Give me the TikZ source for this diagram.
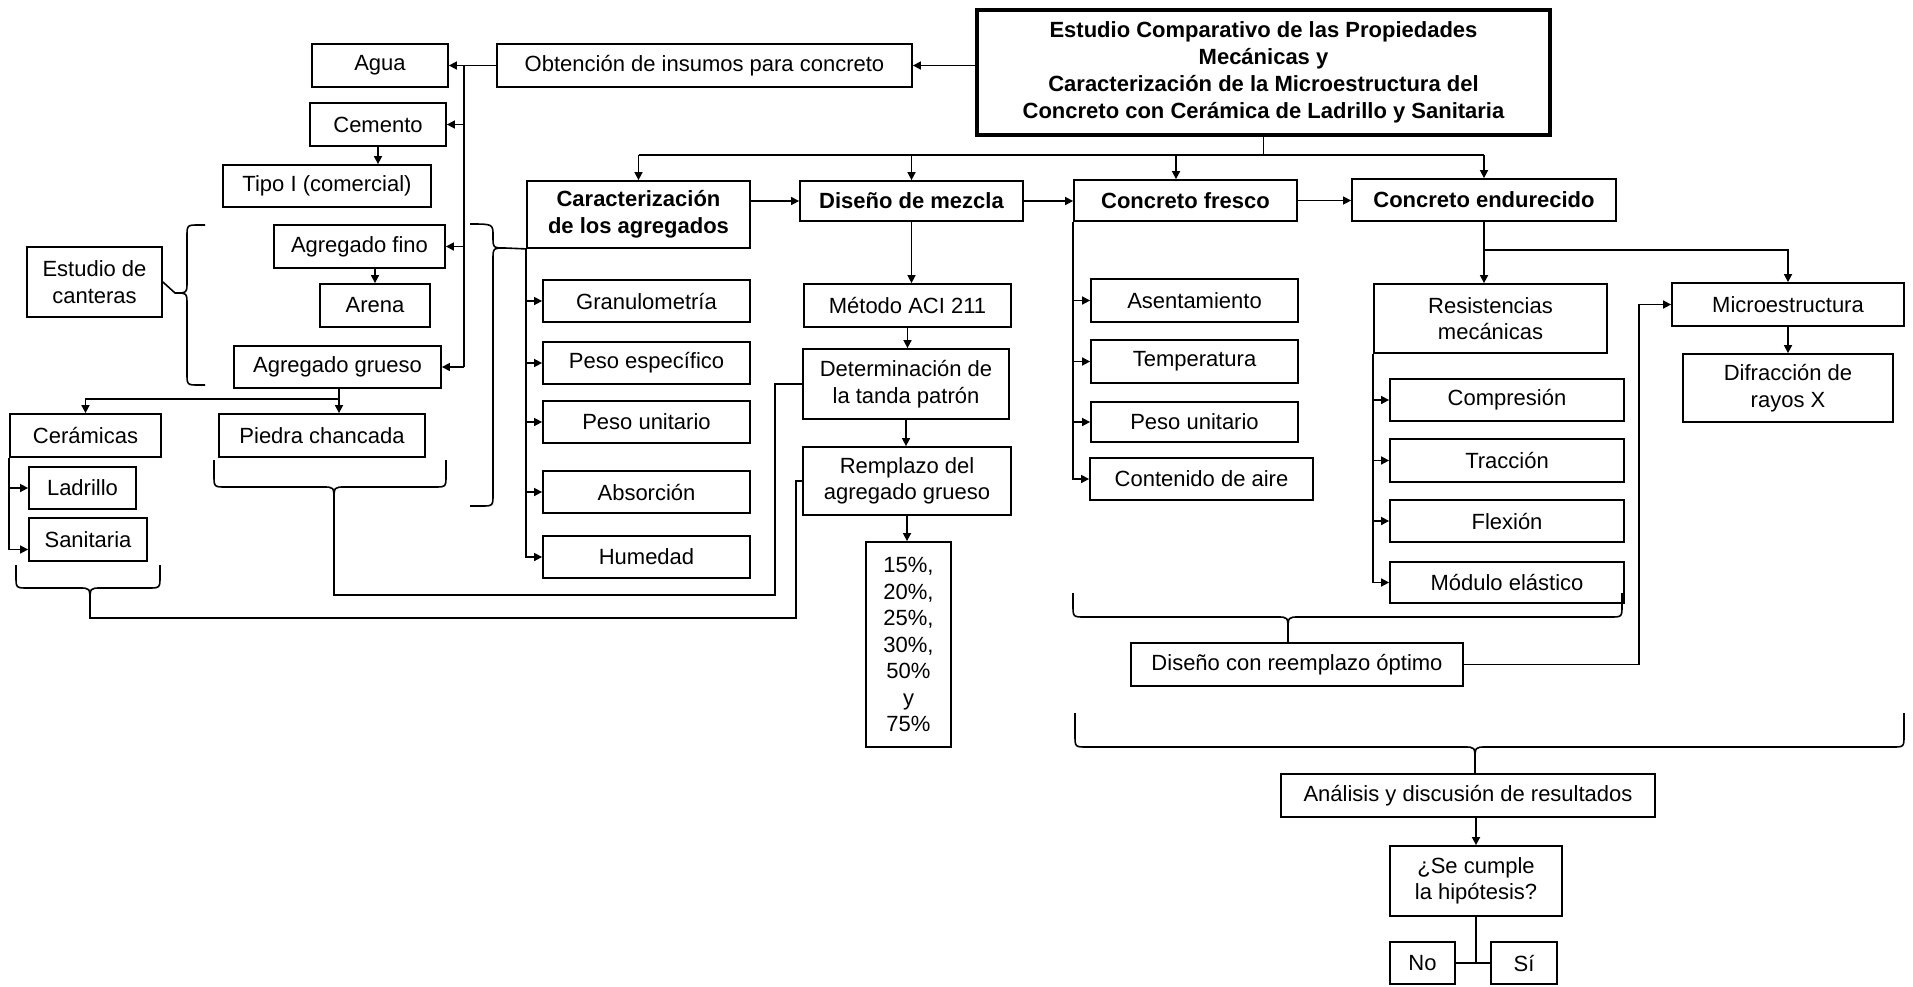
\documentclass[tikz,border=0pt]{standalone}
\usepackage{fontspec}
\setmainfont{Liberation Sans}
\usetikzlibrary{arrows.meta,calc}
\tikzset{
 bx/.style={draw, line width=1.8pt, inner sep=0pt, align=center, font=\fontsize{22}{26.5}\selectfont, text=black},
 bbx/.style={bx, font=\fontsize{22}{26.5}\selectfont\bfseries},
 ln/.style={line width=1.6pt},
 arr/.style={ln, -{Triangle[length=8pt,width=8pt]}},
}
\newcommand{\bxx}[7][]{\node[bx,#1, minimum width={(#5-#3)*1pt}, minimum height={(#6-#4)*1pt}] (#2) at ({(#3+#5)/2},{(#4+#6)/2}) {#7};}
\newcommand{\hbr}[6]{%
 \draw[ln] (#1,#3) -- (#1,{#4-12}) .. controls (#1,#4) .. ({#1+12},#4) -- ({#5-11},#4) .. controls (#5,#4) .. (#5,{#4+14});
 \draw[ln] (#2,#3) -- (#2,{#4-12}) .. controls (#2,#4) .. ({#2-12},#4) -- ({#5+11},#4) .. controls (#5,#4) .. (#5,{#4+14});
 \coordinate (#6) at (#5,{#4+14});}
\begin{document}
\begin{tikzpicture}[x=1pt,y=-1pt]
\useasboundingbox (0,0) rectangle (1913,986);
% title
\node[bx, line width=4.5pt, font=\fontsize{22}{27}\selectfont\bfseries, minimum width=573pt, minimum height=125pt] (title) at (1263.5,72.5) {Estudio Comparativo de las Propiedades\\Mecánicas y\\Caracterización de la Microestructura del\\Concreto con Cerámica de Ladrillo y Sanitaria};
% left group
\bxx{obt}{497}{44}{912}{87}{Obtención de insumos para concreto}
\bxx{agua}{312}{44}{448}{87}{Agua}
\bxx{cemento}{310}{103}{446}{146}{Cemento}
\bxx{tipo}{223}{165}{431}{207}{Tipo I (comercial)}
\bxx{afino}{274}{225}{445}{268}{Agregado fino}
\bxx{arena}{320}{284}{430}{327}{Arena}
\bxx{agrueso}{234}{346}{441}{388}{Agregado grueso}
\bxx{canteras}{27}{247}{162}{317}{Estudio de\\canteras}
\bxx{ceram}{10}{414}{161}{457}{Cerámicas}
\bxx{piedra}{219}{414}{425}{457}{Piedra chancada}
\bxx{ladrillo}{29}{467}{136}{509}{Ladrillo}
\bxx{sanit}{29}{518}{147}{561}{Sanitaria}
% caracterizacion
\bxx[bbx]{caract}{527}{181}{750}{248}{Caracterización\\de los agregados}
\bxx{granu}{543}{280}{750}{322}{Granulometría}
\bxx{pesoesp}{543}{342}{750}{384}{Peso específico}
\bxx{pesouni}{543}{401}{750}{443}{Peso unitario}
\bxx{absor}{543}{471}{750}{513}{Absorción}
\bxx{humedad}{543}{536}{750}{578}{Humedad}
% diseno
\bxx[bbx]{diseno}{800}{181}{1023}{221}{Diseño de mezcla}
\bxx{aci}{804}{284}{1011}{327}{Método ACI 211}
\bxx{determ}{803}{349}{1009}{419}{Determinación de\\la tanda patrón}
\bxx{remplazo}{803}{447}{1011}{515}{Remplazo del\\agregado grueso}
\bxx{pct}{866}{542}{951}{747}{15\%,\\20\%,\\25\%,\\30\%,\\50\%\\y\\75\%}
% fresco
\bxx[bbx]{fresco}{1074}{180}{1297}{221}{Concreto fresco}
\bxx{asent}{1091}{279}{1298}{322}{Asentamiento}
\bxx{temp}{1091}{340}{1298}{383}{Temperatura}
\bxx{pesouniB}{1091}{402}{1298}{442}{Peso unitario}
\bxx{aire}{1090}{458}{1313}{500}{Contenido de aire}
% endurecido
\bxx[bbx]{endur}{1352}{179}{1616}{221}{Concreto endurecido}
\bxx{resist}{1374}{284}{1607}{353}{Resistencias\\mecánicas}
\bxx{micro}{1672}{283}{1904}{326}{Microestructura}
\bxx{difr}{1683}{354}{1893}{422}{Difracción de\\rayos X}
\bxx{compr}{1390}{379}{1624}{421}{Compresión}
\bxx{tracc}{1390}{439}{1624}{482}{Tracción}
\bxx{flex}{1390}{500}{1624}{542}{Flexión}
\bxx{modulo}{1390}{562}{1624}{603}{Módulo elástico}
% bottom
\bxx{diseopt}{1131}{643}{1463}{686}{Diseño con reemplazo óptimo}
\bxx{analisis}{1281}{774}{1655}{817}{Análisis y discusión de resultados}
\bxx{hipot}{1390}{846}{1562}{916}{¿Se cumple\\la hipótesis?}
\bxx{no}{1390}{942}{1455}{984}{No}
\bxx{si}{1491}{942}{1557}{984}{Sí}
% ---- connectors: left
\draw[arr] (title.west |- obt.east) -- (obt.east);
\draw[arr] (obt.west) -- (agua.east);
\coordinate (vx) at (464,0);
\draw[ln] (vx |- agua.east) -- (vx |- agrueso.east);
\draw[arr] (vx |- cemento.east) -- (cemento.east);
\draw[arr] (vx |- afino.east) -- (afino.east);
\draw[arr] (vx |- agrueso.east) -- (agrueso.east);
\draw[arr] (cemento.south) -- (cemento.south |- tipo.north);
\draw[arr] (arena.north |- afino.south) -- (arena.north);
\coordinate (gs) at (339,399);
\draw[ln] (gs |- agrueso.south) -- (gs);
\draw[arr] (gs) -- (gs |- piedra.north);
\draw[arr] (gs) -| (ceram.north);
\draw[arr] (ceram.south west) |- (ladrillo.west);
\draw[arr] (ceram.south west) |- ([yshift=-10pt]sanit.west);
% canteras brace
\draw[ln] (205,225) -- (199,225) .. controls (187,225) .. (187,237) -- (187,281) .. controls (187,293) .. (175,293) -- (canteras.east);
\draw[ln] (205,385) -- (199,385) .. controls (187,385) .. (187,373) -- (187,305) .. controls (187,293) .. (175,293);
% agregados brace
\draw[ln] (470,224) .. controls (493,224) .. (493,236) .. controls (493,248) .. (505,248) -- (caract.south west);
\draw[ln] (470,506) -- (481,506) .. controls (493,506) .. (493,494) -- (493,260) .. controls (493,248) .. (505,248);
% lower braces
\hbr{214}{446}{460}{487}{334}{pt}
\draw[ln] (pt) |- (775,595) |- (determ.west);
\hbr{16}{160}{565}{588}{90}{ct}
\draw[ln] (ct) |- (796,618) |- (remplazo.west);
% caracterizacion list
\draw[arr] (caract.south west) |- (granu.west);
\draw[arr] (caract.south west) |- (pesoesp.west);
\draw[arr] (caract.south west) |- (pesouni.west);
\draw[arr] (caract.south west) |- (absor.west);
\draw[arr] (caract.south west) |- (humedad.west);
% bus
\coordinate (bus) at (0,155);
\draw[ln] (title.south) -- (title.south |- bus);
\draw[ln] (caract.north |- bus) -- (endur.north |- bus);
\draw[arr] (caract.north |- bus) -- (caract.north);
\draw[arr] (diseno.north |- bus) -- (diseno.north);
\coordinate (fx) at (1176,155);
\draw[arr] (fx) -- (fx |- fresco.north);
\draw[arr] (endur.north |- bus) -- (endur.north);
\draw[arr] (caract.east |- diseno.west) -- (diseno.west);
\draw[arr] (diseno.east) -- (diseno.east -| fresco.west);
\draw[arr, line width=1.3pt] (fresco.east) -- (fresco.east -| endur.west);
% diseno column
\draw[arr] (diseno.south) -- (diseno.south |- aci.north);
\draw[arr] (aci.south) -- (aci.south |- determ.north);
\draw[arr] (determ.south) -- (determ.south |- remplazo.north);
\draw[arr] (remplazo.south) -- (remplazo.south |- pct.north);
% fresco column
\draw[arr] (fresco.south west) |- (asent.west);
\draw[arr] (fresco.south west) |- (temp.west);
\draw[arr] (fresco.south west) |- (pesouniB.west);
\draw[arr] (fresco.south west) |- (aire.west);
% endurecido
\coordinate (es) at (0,250);
\draw[arr] (endur.south) -- (endur.south |- resist.north);
\draw[arr] (endur.south |- es) -| (micro.north);
\draw[arr] (micro.south) -- (micro.south |- difr.north);
\draw[arr] (resist.south west) |- (compr.west);
\draw[arr] (resist.south west) |- (tracc.west);
\draw[arr] (resist.south west) |- (flex.west);
\draw[arr] (resist.south west) |- (modulo.west);
% bottom braces
\hbr{1073}{1622}{593}{617}{1288}{ft}
\draw[ln] (ft) -- (ft |- diseopt.north);
\coordinate (mx) at (1639,0);
\draw[arr] (diseopt.east) -- (mx |- diseopt.east) |- (micro.west);
\hbr{1075}{1904}{713}{747}{1475}{bt}
\draw[ln] (bt) -- (bt |- analisis.north);
\draw[arr] (hipot.north |- analisis.south) -- (hipot.north);
\draw[ln] (hipot.south) -- (hipot.south |- no.east);
\draw[ln] (no.east) -- (si.west);
\end{tikzpicture}
\end{document}
